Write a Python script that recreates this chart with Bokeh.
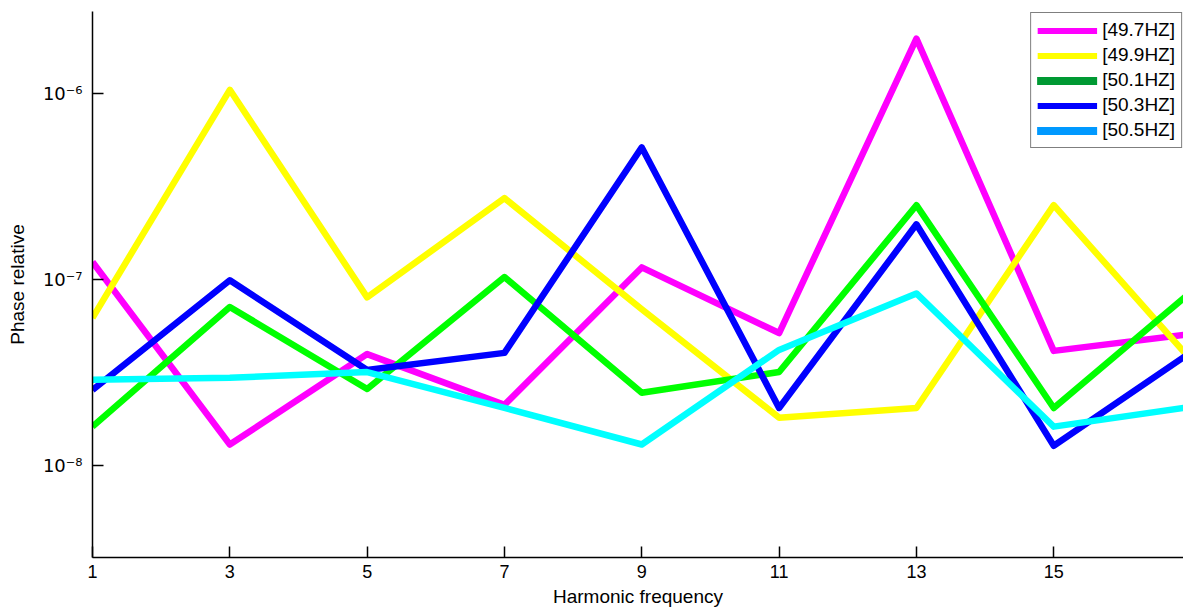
from bokeh.plotting import figure
from bokeh.models import Range1d, FixedTicker, Legend, LegendItem
from bokeh.embed import file_html
from bokeh.resources import INLINE

# Harmonic orders and relative phase error for each supply frequency
harmonics = [1, 3, 5, 7, 9, 11, 13, 15, 17]
f497 = [1.24e-7, 1.29e-8, 3.96e-8, 2.11e-8, 1.16e-7, 5.14e-8, 1.98e-6, 4.12e-8, 5.08e-8]
f499 = [6.2e-8, 1.05e-6, 8.0e-8, 2.74e-7, 6.9e-8, 1.80e-8, 2.03e-8, 2.51e-7, 3.68e-8]
f501 = [1.61e-8, 7.1e-8, 2.57e-8, 1.03e-7, 2.45e-8, 3.17e-8, 2.51e-7, 2.03e-8, 8.55e-8]
f503 = [2.54e-8, 9.9e-8, 3.25e-8, 4.02e-8, 5.14e-7, 2.03e-8, 1.98e-7, 1.27e-8, 4.06e-8]
f505 = [2.88e-8, 2.95e-8, 3.17e-8, 2.03e-8, 1.29e-8, 4.17e-8, 8.4e-8, 1.61e-8, 2.06e-8]

series_labels = ["[49.7HZ]", "[49.9HZ]", "[50.1HZ]", "[50.3HZ]", "[50.5HZ]"]
line_colors = ["#ff00ff", "#ffff00", "#00ff00", "#0000ff", "#00ffff"]
legend_colors = ["#ff00ff", "#ffff00", "#009933", "#0000ff", "#0099ff"]

x_ticks = [1, 3, 5, 7, 9, 11, 13, 15]
y_ticks = [1e-8, 1e-7, 1e-6]
y_tick_labels = ["10\u207b\u2078", "10\u207b\u2077", "10\u207b\u2076"]

FONT = "Liberation Sans"
NAN = float("nan")

p = figure(
    width=1183, height=609,
    x_range=Range1d(1, 16.89),
    y_range=Range1d(10 ** -8.498, 10 ** -5.557),
    y_axis_type="log",
    output_backend="svg",
    toolbar_location=None,
    min_border_left=92, min_border_right=0,
    min_border_top=11, min_border_bottom=51,
)
p.outline_line_color = None
p.xgrid.visible = False
p.ygrid.visible = False
p.background_fill_color = "white"
p.border_fill_color = "white"

for ys, c in zip([f497, f499, f501, f503, f505], line_colors):
    p.line(harmonics, ys, line_color=c, line_width=6.5, line_join="round")

# Legend swatches (their data is NaN, so they only show inside the legend box)
items = []
for lab, c, w, cap in zip(series_labels, legend_colors,
                          [6, 6, 8, 6, 8],
                          ["butt", "butt", "round", "butt", "round"]):
    r = p.line(x=[NAN, NAN], y=[NAN, NAN], line_color=c, line_width=w, line_cap=cap)
    items.append(LegendItem(label=lab, renderers=[r]))

legend = Legend(
    items=items, location="top_right",
    margin=1, padding=6, spacing=3,
    label_height=21, glyph_height=21, glyph_width=60, label_standoff=5,
    label_text_font=FONT, label_text_font_size="19px", label_text_color="black",
    border_line_color="black", border_line_width=1,
    background_fill_color="white", background_fill_alpha=1.0,
)
p.add_layout(legend, "center")

# X axis
xa = p.xaxis[0]
xa.ticker = FixedTicker(ticks=x_ticks)
xa.axis_label = "Harmonic frequency"
xa.axis_label_text_font = FONT
xa.axis_label_text_font_size = "19px"
xa.axis_label_text_font_style = "normal"
xa.axis_label_text_color = "black"
xa.axis_label_standoff = 5
xa.major_label_text_font = FONT
xa.major_label_text_font_size = "18px"
xa.major_label_text_color = "black"
xa.major_label_standoff = 7
xa.major_tick_in = 11
xa.major_tick_out = 0
xa.minor_tick_line_color = None
xa.axis_line_width = 1.5
xa.axis_line_color = "black"
xa.major_tick_line_width = 1.5
xa.major_tick_line_color = "black"

# Y axis
ya = p.yaxis[0]
ya.ticker = FixedTicker(ticks=y_ticks)
ya.major_label_overrides = dict(zip(y_ticks, y_tick_labels))
ya.axis_label = "Phase relative"
ya.axis_label_text_font = FONT
ya.axis_label_text_font_size = "19px"
ya.axis_label_text_font_style = "normal"
ya.axis_label_text_color = "black"
ya.axis_label_standoff = 12
ya.major_label_text_font = "DejaVu Sans"
ya.major_label_text_font_size = "18px"
ya.major_label_text_color = "black"
ya.major_label_standoff = 10
ya.major_tick_in = 11
ya.major_tick_out = 0
ya.minor_tick_line_color = None
ya.axis_line_width = 1.5
ya.axis_line_color = "black"
ya.major_tick_line_width = 1.5
ya.major_tick_line_color = "black"

open("out.html", "w").write(file_html(p, INLINE))
